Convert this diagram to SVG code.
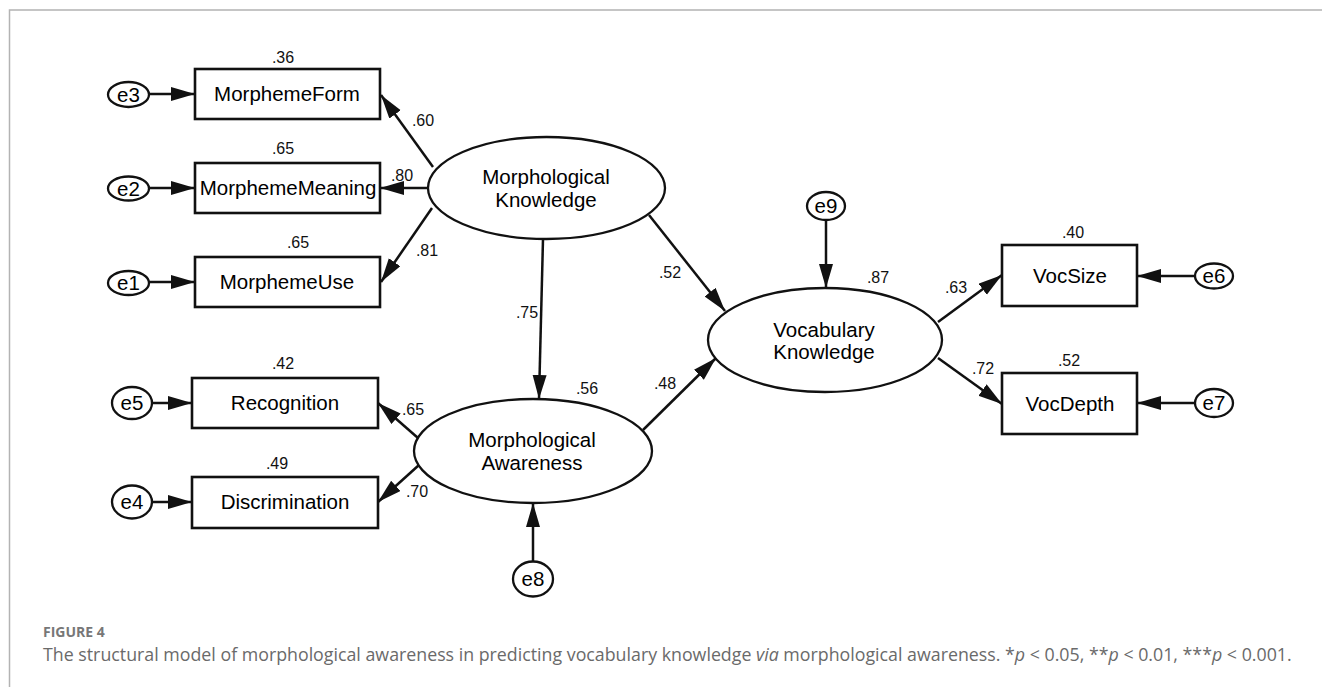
<svg xmlns="http://www.w3.org/2000/svg" width="1322" height="687" viewBox="0 0 1322 687">
  <style>
    .box { fill: #fff; stroke: #111; stroke-width: 2.6; }
    .lat { fill: #fff; stroke: #111; stroke-width: 2.3; }
    .err { fill: #fff; stroke: #111; stroke-width: 2.3; }
    .lbl { font-family: "Liberation Sans", Arial, sans-serif; font-size: 20.5px; fill: #000; text-anchor: middle; }
    .num { font-family: "Liberation Sans", Arial, sans-serif; font-size: 16px; fill: #111; text-anchor: middle; }
    .edge { stroke: #111; stroke-width: 2.5; fill: none; marker-end: url(#head); }
    .frame { stroke: #b3b3b3; stroke-width: 1.5; fill: none; }
    .cap-head { font-family: "Open Sans", "Noto Sans", sans-serif; font-size: 14px; font-weight: bold; fill: #777; }
    .cap { font-family: "Open Sans", "Noto Sans", sans-serif; font-size: 17.8px; fill: #6a6a6a; }
  </style>
  <defs>
    <marker id="head" markerUnits="userSpaceOnUse" markerWidth="26" markerHeight="16" refX="24" refY="7" orient="auto">
      <path d="M0,0 L24,7 L0,14 z" fill="#111"/>
    </marker>
  </defs>

  <rect width="1322" height="687" fill="#fff"/>
  <path class="frame" d="M1322,10 H9.5 V687"/>

  <!-- observed indicators -->
  <g id="morphemeform"><rect class="box" x="195" y="69" width="185" height="50"/><text class="lbl" x="287" y="101">MorphemeForm</text></g>
  <g id="morphememeaning"><rect class="box" x="195" y="163" width="185" height="50"/><text class="lbl" x="288" y="195">MorphemeMeaning</text></g>
  <g id="morphemeuse"><rect class="box" x="195" y="257" width="185" height="50"/><text class="lbl" x="287" y="289">MorphemeUse</text></g>
  <g id="recognition"><rect class="box" x="192" y="378" width="186" height="50"/><text class="lbl" x="285" y="410">Recognition</text></g>
  <g id="discrimination"><rect class="box" x="192" y="477" width="186" height="51"/><text class="lbl" x="285" y="509">Discrimination</text></g>
  <g id="vocsize"><rect class="box" x="1002" y="245" width="135" height="61"/><text class="lbl" x="1070" y="283">VocSize</text></g>
  <g id="vocdepth"><rect class="box" x="1002" y="373" width="135" height="61"/><text class="lbl" x="1070" y="411">VocDepth</text></g>

  <!-- latent constructs -->
  <g id="morph-knowledge"><ellipse class="lat" cx="546.5" cy="188" rx="118.5" ry="51"/><text class="lbl" x="546" y="184">Morphological</text><text class="lbl" x="546" y="207">Knowledge</text></g>
  <g id="morph-awareness"><ellipse class="lat" cx="533" cy="451" rx="119" ry="52"/><text class="lbl" x="532" y="447">Morphological</text><text class="lbl" x="532" y="470">Awareness</text></g>
  <g id="vocab-knowledge"><ellipse class="lat" cx="825" cy="340" rx="117" ry="52"/><text class="lbl" x="824" y="337">Vocabulary</text><text class="lbl" x="824" y="359">Knowledge</text></g>

  <!-- error terms -->
  <g id="e3"><ellipse class="err" cx="128.5" cy="94.5" rx="20.5" ry="12.5"/><text class="lbl" x="128.5" y="101.5">e3</text></g>
  <g id="e2"><ellipse class="err" cx="128.5" cy="188.5" rx="20.5" ry="12"/><text class="lbl" x="128.5" y="195.5">e2</text></g>
  <g id="e1"><ellipse class="err" cx="128.5" cy="283" rx="20.5" ry="12"/><text class="lbl" x="128.5" y="290">e1</text></g>
  <g id="e5"><ellipse class="err" cx="132" cy="403" rx="20" ry="16"/><text class="lbl" x="132" y="410">e5</text></g>
  <g id="e4"><ellipse class="err" cx="132" cy="502" rx="20" ry="16.5"/><text class="lbl" x="132" y="509">e4</text></g>
  <g id="e8"><ellipse class="err" cx="533" cy="579" rx="20" ry="17.5"/><text class="lbl" x="533" y="586">e8</text></g>
  <g id="e9"><ellipse class="err" cx="826" cy="206" rx="19" ry="14"/><text class="lbl" x="826" y="213">e9</text></g>
  <g id="e6"><ellipse class="err" cx="1214" cy="276" rx="19" ry="12.5"/><text class="lbl" x="1214" y="283">e6</text></g>
  <g id="e7"><ellipse class="err" cx="1214" cy="403" rx="19" ry="14"/><text class="lbl" x="1214" y="410">e7</text></g>

  <!-- paths -->
  <g id="connectors">
    <line class="edge" x1="149" y1="94" x2="195" y2="94"/>
    <line class="edge" x1="149" y1="188" x2="195" y2="188"/>
    <line class="edge" x1="149" y1="282" x2="195" y2="282"/>
    <line class="edge" x1="152" y1="403" x2="192" y2="403"/>
    <line class="edge" x1="152" y1="502" x2="192" y2="502"/>
    <line class="edge" x1="433" y1="167" x2="381" y2="95"/>
    <line class="edge" x1="428" y1="188" x2="380" y2="188"/>
    <line class="edge" x1="432" y1="208" x2="381" y2="282"/>
    <line class="edge" x1="418" y1="438" x2="378" y2="403"/>
    <line class="edge" x1="419" y1="465" x2="378" y2="502"/>
    <line class="edge" x1="543" y1="239" x2="539" y2="399"/>
    <line class="edge" x1="649" y1="215" x2="725" y2="311"/>
    <line class="edge" x1="643" y1="430" x2="716" y2="358"/>
    <line class="edge" x1="826" y1="220" x2="826" y2="288"/>
    <line class="edge" x1="533" y1="561" x2="533" y2="503"/>
    <line class="edge" x1="938" y1="322" x2="1002" y2="275"/>
    <line class="edge" x1="938" y1="358" x2="1002" y2="404"/>
    <line class="edge" x1="1195" y1="276" x2="1137" y2="276"/>
    <line class="edge" x1="1195" y1="403" x2="1137" y2="403"/>
  </g>

  <!-- estimates -->
  <g id="estimates">
    <text class="num" x="283" y="63">.36</text>
    <text class="num" x="283" y="154">.65</text>
    <text class="num" x="298" y="248">.65</text>
    <text class="num" x="423" y="126">.60</text>
    <text class="num" x="402" y="181">.80</text>
    <text class="num" x="427" y="256">.81</text>
    <text class="num" x="283" y="369">.42</text>
    <text class="num" x="277" y="469">.49</text>
    <text class="num" x="413" y="415">.65</text>
    <text class="num" x="417" y="497">.70</text>
    <text class="num" x="527" y="318">.75</text>
    <text class="num" x="670" y="278">.52</text>
    <text class="num" x="587" y="394">.56</text>
    <text class="num" x="665" y="389">.48</text>
    <text class="num" x="878" y="283">.87</text>
    <text class="num" x="1073" y="238">.40</text>
    <text class="num" x="1069" y="366">.52</text>
    <text class="num" x="956" y="293">.63</text>
    <text class="num" x="983" y="374">.72</text>
  </g>

  <!-- caption -->
  <text class="cap-head" x="43" y="637">FIGURE 4</text>
  <text class="cap" x="43" y="661">The structural model of morphological awareness in predicting vocabulary knowledge <tspan font-style="italic">via</tspan> morphological awareness. *<tspan font-style="italic">p</tspan> &lt; 0.05, **<tspan font-style="italic">p</tspan> &lt; 0.01, ***<tspan font-style="italic">p</tspan> &lt; 0.001.</text>
</svg>
